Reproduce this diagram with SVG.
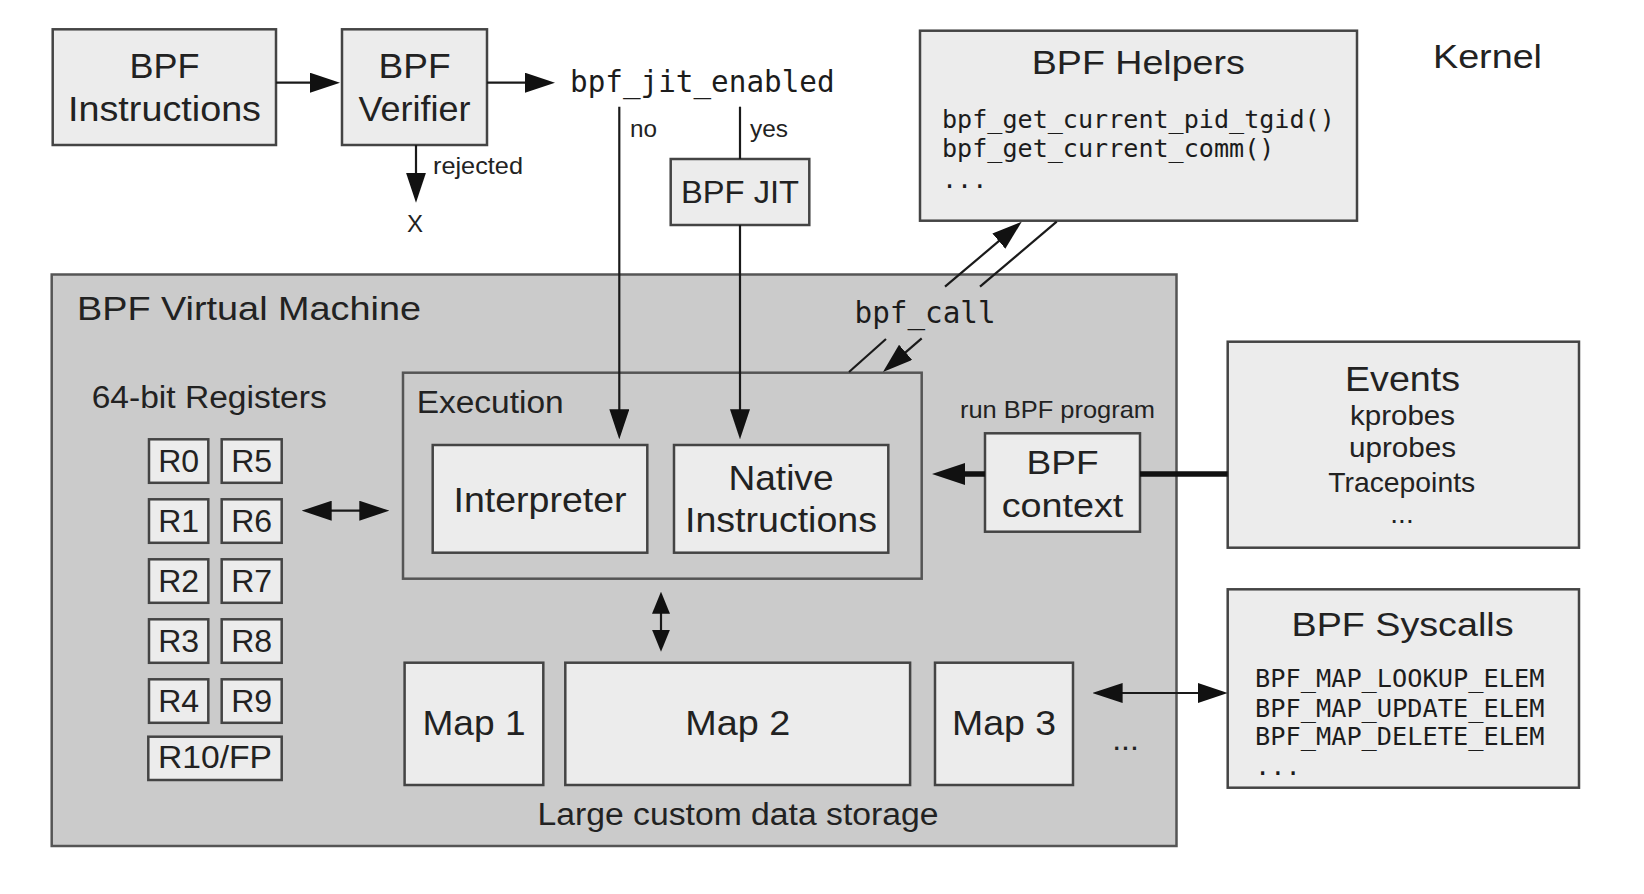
<svg xmlns="http://www.w3.org/2000/svg" width="1644" height="894" viewBox="0 0 1644 894">
<style>
.bx{fill:#ececec;stroke:#444;stroke-width:2.5}
.vm{fill:#cbcbcb;stroke:#555;stroke-width:2.5}
.s{font-family:"Liberation Sans",Arial,sans-serif;fill:#222}
.m{font-family:"DejaVu Sans Mono",monospace;fill:#1c1c1c}
.c{text-anchor:middle}
.ln{fill:none;stroke:#1a1a1a;stroke-width:2.2}
.thk{fill:none;stroke:#111;stroke-width:5.5}
</style>
<defs>
<marker id="ah" markerUnits="userSpaceOnUse" markerWidth="30" markerHeight="20" refX="20" refY="10" orient="auto-start-reverse" viewBox="0 0 30 20"><path d="M0,0 L30,10 L0,20 z" fill="#111"/></marker>
<marker id="ahs" markerUnits="userSpaceOnUse" markerWidth="22" markerHeight="18" refX="12" refY="9" orient="auto-start-reverse" viewBox="0 0 22 18"><path d="M0,0 L22,9 L0,18 z" fill="#111"/></marker>
<marker id="ahk" markerUnits="userSpaceOnUse" markerWidth="33" markerHeight="22" refX="23" refY="11" orient="auto" viewBox="0 0 33 22"><path d="M0,0 L33,11 L0,22 z" fill="#111"/></marker>
</defs>
<rect width="1644" height="894" fill="#ffffff"/>

<g id="vm">
<rect class="vm" x="51.7" y="274.5" width="1124.8" height="571.5"/>
<text class="s" x="77" y="320" font-size="33" textLength="344" lengthAdjust="spacingAndGlyphs">BPF Virtual Machine</text>
</g>

<g id="registers">
<text class="s" x="91.7" y="408" font-size="31" textLength="235" lengthAdjust="spacingAndGlyphs">64-bit Registers</text>
<rect class="bx" x="149" y="439.3" width="59.3" height="43.5"/><text class="s c" x="178.7" y="471.7" font-size="32">R0</text>
<rect class="bx" x="221.7" y="439.3" width="60" height="43.5"/><text class="s c" x="251.7" y="471.7" font-size="32">R5</text>
<rect class="bx" x="149" y="499.3" width="59.3" height="43.5"/><text class="s c" x="178.7" y="531.7" font-size="32">R1</text>
<rect class="bx" x="221.7" y="499.3" width="60" height="43.5"/><text class="s c" x="251.7" y="531.7" font-size="32">R6</text>
<rect class="bx" x="149" y="559.3" width="59.3" height="43.5"/><text class="s c" x="178.7" y="591.7" font-size="32">R2</text>
<rect class="bx" x="221.7" y="559.3" width="60" height="43.5"/><text class="s c" x="251.7" y="591.7" font-size="32">R7</text>
<rect class="bx" x="149" y="619.3" width="59.3" height="43.5"/><text class="s c" x="178.7" y="651.7" font-size="32">R3</text>
<rect class="bx" x="221.7" y="619.3" width="60" height="43.5"/><text class="s c" x="251.7" y="651.7" font-size="32">R8</text>
<rect class="bx" x="149" y="679.3" width="59.3" height="43.5"/><text class="s c" x="178.7" y="711.7" font-size="32">R4</text>
<rect class="bx" x="221.7" y="679.3" width="60" height="43.5"/><text class="s c" x="251.7" y="711.7" font-size="32">R9</text>
<rect class="bx" x="148.3" y="736.7" width="133.4" height="43.3"/><text class="s c" x="215" y="768.3" font-size="32" textLength="114" lengthAdjust="spacingAndGlyphs">R10/FP</text>
</g>

<g id="execution">
<rect class="vm" x="403" y="372.7" width="518.7" height="206"/>
<text class="s" x="416.7" y="413.3" font-size="31" textLength="147" lengthAdjust="spacingAndGlyphs">Execution</text>
</g>

<g id="interpreter">
<rect class="bx" x="432.7" y="445" width="214.6" height="107.7"/>
<text class="s c" x="540" y="511.7" font-size="35" textLength="173" lengthAdjust="spacingAndGlyphs">Interpreter</text>
</g>

<g id="native">
<rect class="bx" x="674" y="445" width="214.3" height="107.7"/>
<text class="s c" x="781" y="490" font-size="35" textLength="105" lengthAdjust="spacingAndGlyphs">Native</text>
<text class="s c" x="781" y="531.7" font-size="35" textLength="192" lengthAdjust="spacingAndGlyphs">Instructions</text>
</g>

<g id="map1">
<rect class="bx" x="404.6" y="662.7" width="138.7" height="122.3"/>
<text class="s c" x="474" y="735" font-size="35" textLength="103" lengthAdjust="spacingAndGlyphs">Map 1</text>
</g>
<g id="map2">
<rect class="bx" x="565.3" y="662.7" width="344.8" height="122.3"/>
<text class="s c" x="737.7" y="735" font-size="35" textLength="105" lengthAdjust="spacingAndGlyphs">Map 2</text>
</g>
<g id="map3">
<rect class="bx" x="935" y="662.7" width="138" height="122.3"/>
<text class="s c" x="1004" y="735" font-size="35" textLength="104" lengthAdjust="spacingAndGlyphs">Map 3</text>
</g>
<g id="maps-more">
<text class="s c" x="1125.5" y="750" font-size="32">...</text>
<text class="s c" x="738" y="825" font-size="31" textLength="401" lengthAdjust="spacingAndGlyphs">Large custom data storage</text>
</g>

<g id="bpf-context">
<text class="s" x="960" y="418.3" font-size="24" textLength="195" lengthAdjust="spacingAndGlyphs">run BPF program</text>
<rect class="bx" x="985" y="433.3" width="155" height="98.4"/>
<text class="s c" x="1062.5" y="474" font-size="34" textLength="72" lengthAdjust="spacingAndGlyphs">BPF</text>
<text class="s c" x="1062.5" y="516.7" font-size="34" textLength="121.7" lengthAdjust="spacingAndGlyphs">context</text>
</g>

<g id="bpf-instructions">
<rect class="bx" x="52.7" y="29.3" width="223.3" height="115.7"/>
<text class="s c" x="164.5" y="78" font-size="35" textLength="70" lengthAdjust="spacingAndGlyphs">BPF</text>
<text class="s c" x="164.5" y="121" font-size="35" textLength="193" lengthAdjust="spacingAndGlyphs">Instructions</text>
</g>

<g id="bpf-verifier">
<rect class="bx" x="342" y="29.3" width="145" height="115.7"/>
<text class="s c" x="414.5" y="78" font-size="35" textLength="72" lengthAdjust="spacingAndGlyphs">BPF</text>
<text class="s c" x="414.5" y="121" font-size="35" textLength="112" lengthAdjust="spacingAndGlyphs">Verifier</text>
</g>

<g id="rejected">
<text class="s" x="433" y="174" font-size="24" textLength="90" lengthAdjust="spacingAndGlyphs">rejected</text>
<text class="s c" x="415" y="232" font-size="24">X</text>
</g>

<g id="jit-enabled">
<text class="m" x="570" y="92" font-size="29.3">bpf_jit_enabled</text>
<text class="s" x="630" y="136.7" font-size="24" textLength="27" lengthAdjust="spacingAndGlyphs">no</text>
<text class="s" x="750" y="136.7" font-size="24" textLength="38" lengthAdjust="spacingAndGlyphs">yes</text>
</g>

<g id="bpf-jit">
<rect class="bx" x="670.7" y="159" width="138.6" height="66"/>
<text class="s c" x="740" y="203" font-size="32" textLength="118" lengthAdjust="spacingAndGlyphs">BPF JIT</text>
</g>

<g id="bpf-helpers">
<rect class="bx" x="920" y="30.7" width="437" height="190"/>
<text class="s c" x="1138.3" y="74" font-size="33" textLength="213" lengthAdjust="spacingAndGlyphs">BPF Helpers</text>
<text class="m" x="942" y="128.3" font-size="25.1">bpf_get_current_pid_tgid()</text>
<text class="m" x="942" y="156.7" font-size="25.1">bpf_get_current_comm()</text>
<text class="m" x="942" y="188.3" font-size="25.1">...</text>
</g>

<g id="kernel">
<text class="s" x="1433" y="68" font-size="34" textLength="109" lengthAdjust="spacingAndGlyphs">Kernel</text>
</g>

<g id="bpf-call">
<text class="m" x="854.5" y="323.3" font-size="29.3">bpf_call</text>
</g>

<g id="events">
<rect class="bx" x="1227.7" y="341.7" width="351.3" height="206"/>
<text class="s c" x="1402.5" y="390.7" font-size="35" textLength="115" lengthAdjust="spacingAndGlyphs">Events</text>
<text class="s c" x="1402.5" y="425" font-size="28" textLength="105" lengthAdjust="spacingAndGlyphs">kprobes</text>
<text class="s c" x="1402.5" y="457.3" font-size="28" textLength="107" lengthAdjust="spacingAndGlyphs">uprobes</text>
<text class="s c" x="1401.7" y="491.7" font-size="28" textLength="147" lengthAdjust="spacingAndGlyphs">Tracepoints</text>
<text class="s c" x="1402" y="523.3" font-size="28">...</text>
</g>

<g id="bpf-syscalls">
<rect class="bx" x="1227.7" y="589.3" width="351.3" height="198.4"/>
<text class="s c" x="1402.5" y="636" font-size="33" textLength="222" lengthAdjust="spacingAndGlyphs">BPF Syscalls</text>
<text class="m" x="1255" y="686.7" font-size="25.3">BPF_MAP_LOOKUP_ELEM</text>
<text class="m" x="1255" y="716.7" font-size="25.3">BPF_MAP_UPDATE_ELEM</text>
<text class="m" x="1255" y="745" font-size="25.3">BPF_MAP_DELETE_ELEM</text>
<text class="m" x="1255" y="775" font-size="25.3">...</text>
</g>

<g id="connectors">
<line class="ln" x1="276" y1="82.7" x2="330" y2="82.7" marker-end="url(#ah)"/>
<line class="ln" x1="487" y1="82.7" x2="545" y2="82.7" marker-end="url(#ah)"/>
<line class="ln" x1="416" y1="145" x2="416" y2="192.7" marker-end="url(#ah)"/>
<line class="ln" x1="619.3" y1="106.7" x2="619.3" y2="429.3" marker-end="url(#ah)"/>
<line class="ln" x1="740" y1="106.7" x2="740" y2="159"/>
<line class="ln" x1="740" y1="225" x2="740" y2="429.3" marker-end="url(#ah)"/>
<line class="ln" x1="311.7" y1="510.7" x2="379.3" y2="510.7" marker-start="url(#ah)" marker-end="url(#ah)"/>
<line class="ln" x1="661" y1="601.7" x2="661" y2="641.7" marker-start="url(#ahs)" marker-end="url(#ahs)"/>
<line class="ln" x1="945" y1="286.7" x2="1014.1" y2="228.2" marker-end="url(#ah)"/>
<line class="ln" x1="980" y1="286.7" x2="1056.7" y2="221.7"/>
<line class="ln" x1="921.7" y1="338.3" x2="890.5" y2="365.4" marker-end="url(#ah)"/>
<line class="ln" x1="886" y1="339" x2="849" y2="372"/>
<line class="thk" x1="985" y1="474" x2="942" y2="474" marker-end="url(#ahk)"/>
<line class="thk" x1="1140" y1="474" x2="1227.7" y2="474"/>
<line class="ln" x1="1102.6" y1="693" x2="1217.7" y2="693" marker-start="url(#ah)" marker-end="url(#ah)"/>
</g>
</svg>
